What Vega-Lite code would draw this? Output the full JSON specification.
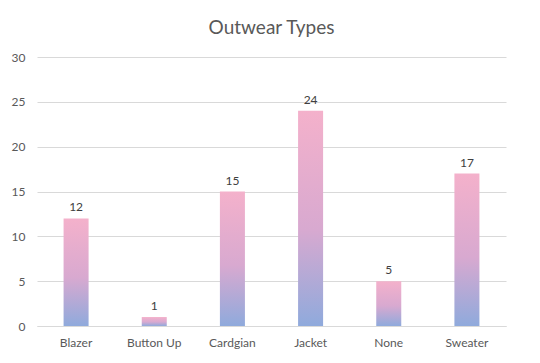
{
  "$schema": "https://vega.github.io/schema/vega-lite/v6.json",
  "width": 469,
  "height": 269,
  "autosize": {"type": "none"},
  "padding": {"left": 37, "top": 57, "right": 34, "bottom": 37},
  "background": "white",
  "config": {"view": {"stroke": null}},
  "title": {
    "text": "Outwear Types",
    "fontSize": 19,
    "font": "Lato",
    "fontWeight": "normal",
    "color": "#595959",
    "anchor": "middle",
    "offset": 13
  },
  "data": {
    "values": [
      {"type": "Blazer", "count": 12},
      {"type": "Button Up", "count": 1},
      {"type": "Cardgian", "count": 15},
      {"type": "Jacket", "count": 24},
      {"type": "None", "count": 5},
      {"type": "Sweater", "count": 17}
    ]
  },
  "encoding": {
    "x": {
      "field": "type",
      "type": "nominal",
      "sort": null,
      "scale": {"paddingInner": 0.68, "paddingOuter": 0.34},
      "axis": {
        "title": null,
        "labelAngle": 0,
        "ticks": false,
        "domainColor": "#d9d9d9",
        "labelColor": "#595959",
        "labelFontSize": 12,
        "labelFont": "Lato",
        "labelPadding": 11
      }
    },
    "y": {
      "field": "count",
      "type": "quantitative",
      "scale": {"domain": [0, 30]},
      "axis": {
        "title": null,
        "values": [0, 5, 10, 15, 20, 25, 30],
        "domain": false,
        "ticks": false,
        "gridColor": "#d9d9d9",
        "labelColor": "#595959",
        "labelFontSize": 12,
        "labelFont": "Lato",
        "labelPadding": 12
      }
    }
  },
  "layer": [
    {
      "mark": {
        "type": "bar",
        "color": {
          "gradient": "linear",
          "x1": 0, "y1": 1, "x2": 0, "y2": 0,
          "stops": [
            {"offset": 0, "color": "#8FAADC"},
            {"offset": 0.45, "color": "#D8A9D0"},
            {"offset": 1, "color": "#F4B1CB"}
          ]
        }
      }
    },
    {
      "mark": {
        "type": "text",
        "dy": -11,
        "fontSize": 12,
        "font": "Lato",
        "color": "#404040"
      },
      "encoding": {"text": {"field": "count", "type": "quantitative"}}
    }
  ]
}
